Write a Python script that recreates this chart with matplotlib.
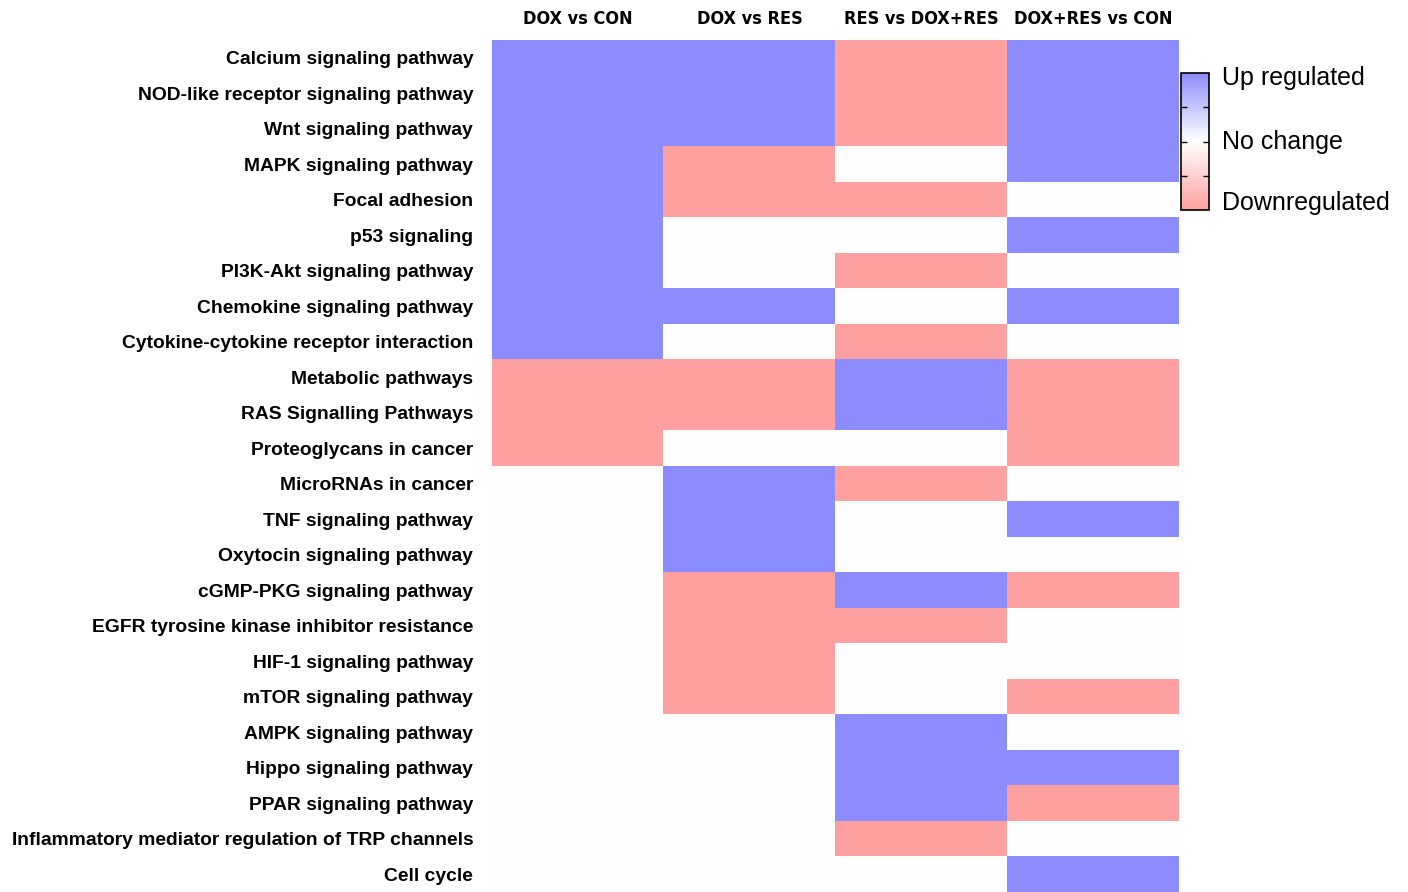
import numpy as np
import matplotlib
matplotlib.use("Agg")
import matplotlib.pyplot as plt
from matplotlib.colors import LinearSegmentedColormap

# comparisons (columns) and pathways (rows)
comparisons = ["DOX vs CON", "DOX vs RES", "RES vs DOX+RES", "DOX+RES vs CON"]
pathways = [
    "Calcium signaling pathway",
    "NOD-like receptor signaling pathway",
    "Wnt signaling pathway",
    "MAPK signaling pathway",
    "Focal adhesion",
    "p53 signaling",
    "PI3K-Akt signaling pathway",
    "Chemokine signaling pathway",
    "Cytokine-cytokine receptor interaction",
    "Metabolic pathways",
    "RAS Signalling Pathways",
    "Proteoglycans in cancer",
    "MicroRNAs in cancer",
    "TNF signaling pathway",
    "Oxytocin signaling pathway",
    "cGMP-PKG signaling pathway",
    "EGFR tyrosine kinase inhibitor resistance",
    "HIF-1 signaling pathway",
    "mTOR signaling pathway",
    "AMPK signaling pathway",
    "Hippo signaling pathway",
    "PPAR signaling pathway",
    "Inflammatory mediator regulation of TRP channels",
    "Cell cycle",
]

# 1 = up regulated, 0 = no change, -1 = downregulated
dox_vs_con = [1, 1, 1, 1, 1, 1, 1, 1, 1, -1, -1, -1, 0, 0, 0, 0, 0, 0, 0, 0, 0, 0, 0, 0]
dox_vs_res = [1, 1, 1, -1, -1, 0, 0, 1, 0, -1, -1, 0, 1, 1, 1, -1, -1, -1, -1, 0, 0, 0, 0, 0]
res_vs_doxres = [-1, -1, -1, 0, -1, 0, -1, 0, -1, 1, 1, 0, -1, 0, 0, 1, -1, 0, 0, 1, 1, 1, -1, 0]
doxres_vs_con = [1, 1, 1, 1, 0, 1, 0, 1, 0, -1, -1, -1, 0, 1, 0, -1, 0, 0, -1, 0, 1, -1, 0, 1]

data = np.array([dox_vs_con, dox_vs_res, res_vs_doxres, doxres_vs_con]).T

cmap = LinearSegmentedColormap.from_list("regulation", ["#FFA0A0", "#FFFFFF", "#8C8CFF"])

fig = plt.figure(figsize=(14.08, 8.92), dpi=100)
ax = fig.add_axes([492 / 1408, 0, 687 / 1408, 852 / 892])
im = ax.imshow(data, cmap=cmap, vmin=-1, vmax=1, aspect="auto", interpolation="nearest")

ax.set_xticks(np.arange(len(comparisons)))
ax.set_xticklabels(comparisons, family="DejaVu Sans", fontstretch="condensed",
                   fontweight="bold", fontsize=13)
ax.xaxis.tick_top()
ax.tick_params(axis="x", length=0, pad=9)

ax.set_yticks(np.arange(len(pathways)))
ax.set_yticklabels(pathways, family=["Liberation Sans", "DejaVu Sans"],
                   fontweight="bold", fontsize=13.9)
ax.tick_params(axis="y", length=0, pad=13.5)

for s in ax.spines.values():
    s.set_visible(False)

# colour key
cax = fig.add_axes([1181 / 1408, (892 - 210) / 892, 28 / 1408, 137 / 892])
cb = fig.colorbar(im, cax=cax)
cb.set_ticks([-0.5, 0, 0.5])
cb.ax.tick_params(left=True, right=True, direction="in", length=4, width=1,
                  labelright=False, labelleft=False)
cb.outline.set_linewidth(1.2)
for y, lab in [(0.92, "Up regulated"), (0.0, "No change"), (-0.9, "Downregulated")]:
    cax.text(1.45, y, lab, transform=cax.get_yaxis_transform(), va="center", ha="left",
             fontsize=18, family=["Liberation Sans", "DejaVu Sans"])

fig.savefig("out.png", dpi=100)
